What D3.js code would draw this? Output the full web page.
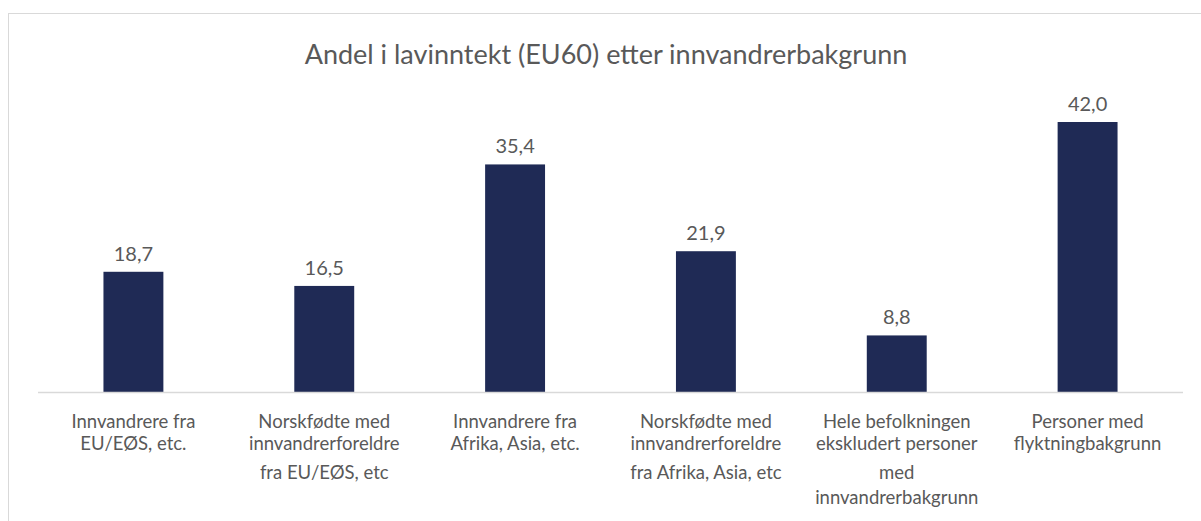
<!DOCTYPE html>
<html>
<head>
<meta charset="utf-8">
<script src="https://cdn.jsdelivr.net/npm/d3@7"></script>
<style>
  body { margin: 0; background: #fff; }
  text { font-family: Lato, "Open Sans", sans-serif; fill: #595959; }
</style>
</head>
<body>
<div id="chart"></div>
<script>
// data
let categories = [
    ["Innvandrere fra", "EU/EØS, etc."],
    ["Norskfødte med", "innvandrerforeldre", "fra EU/EØS, etc"],
    ["Innvandrere fra", "Afrika, Asia, etc."],
    ["Norskfødte med", "innvandrerforeldre", "fra Afrika, Asia, etc"],
    ["Hele befolkningen", "ekskludert personer", "med", "innvandrerbakgrunn"],
    ["Personer med", "flyktningbakgrunn"]
];
let values = [18.7, 16.5, 35.4, 21.9, 8.8, 42.0];
let title = "Andel i lavinntekt (EU60) etter innvandrerbakgrunn";

let width = 1201, height = 521;
let margin = {top: 122, right: 18, bottom: 129, left: 38};

let svg = d3.select("#chart").append("svg")
    .attr("width", width)
    .attr("height", height);

// chart frame
svg.append("rect")
    .attr("x", 8.5).attr("y", 13.5)
    .attr("width", 1210).attr("height", 540)
    .attr("fill", "none")
    .attr("stroke", "#d9d9d9");

svg.append("text")
    .attr("x", 606).attr("y", 64)
    .attr("text-anchor", "middle")
    .style("font-size", "27px")
    .text(title);

let x = d3.scaleBand()
    .domain(d3.range(categories.length))
    .range([margin.left, width - margin.right])
    .paddingInner(0.686)
    .paddingOuter(0.343);

let y = d3.scaleLinear()
    .domain([0, 42])
    .range([height - margin.bottom, margin.top]);

let g = svg.append("g");

g.selectAll("rect.bar")
    .data(values)
    .enter().append("rect")
    .attr("class", "bar")
    .attr("x", function (d, i) { return x(i); })
    .attr("y", function (d) { return y(d); })
    .attr("width", x.bandwidth())
    .attr("height", function (d) { return y(0) - y(d); })
    .attr("fill", "#1f2a55");

// baseline
g.append("line")
    .attr("x1", margin.left).attr("x2", width - margin.right)
    .attr("y1", y(0) + 0.5).attr("y2", y(0) + 0.5)
    .attr("stroke", "#d9d9d9")
    .attr("stroke-width", 1.5);

g.selectAll("text.val")
    .data(values)
    .enter().append("text")
    .attr("class", "val")
    .attr("x", function (d, i) { return x(i) + x.bandwidth() / 2; })
    .attr("y", function (d) { return y(d) - 11; })
    .attr("text-anchor", "middle")
    .style("font-size", "20px")
    .text(function (d) { return d.toFixed(1).replace(".", ","); });

// category labels, line offsets follow the original wrapping
let lineOffsets = [0, 22, 51, 76];
let labels = g.selectAll("text.cat")
    .data(categories)
    .enter().append("text")
    .attr("class", "cat")
    .attr("text-anchor", "middle")
    .style("font-size", "18.5px");

labels.selectAll("tspan")
    .data(function (d, i) { return d.map(function (s) { return {s: s, i: i}; }); })
    .enter().append("tspan")
    .attr("x", function (d) { return x(d.i) + x.bandwidth() / 2; })
    .attr("y", function (d, j) { return y(0) + 36 + lineOffsets[j]; })
    .text(function (d) { return d.s; });
</script>
</body>
</html>
